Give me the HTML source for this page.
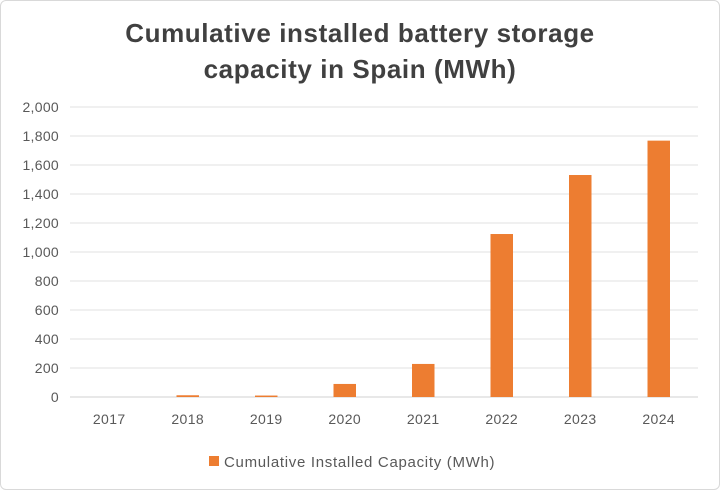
<!DOCTYPE html>
<html><head><meta charset="utf-8"><style>
html,body{margin:0;padding:0;background:#fff;}
#wrap{position:relative;width:718px;height:488px;border:1px solid #d9d9d9;border-radius:6px;overflow:hidden;font-family:"Liberation Sans",sans-serif;}
#title{position:absolute;left:0;top:14px;width:718px;text-align:center;font-weight:bold;font-size:26px;letter-spacing:0.6px;line-height:36px;color:#404040;}
svg{position:absolute;left:0;top:0;}
</style></head><body>
<div id="wrap">
<div id="title">Cumulative installed battery storage<br>capacity in Spain (MWh)</div>
<svg id="chart" width="718" height="488"></svg>
</div>
<script>
const categories = ["2017","2018","2019","2020","2021","2022","2023","2024"];
const values = [0, 12, 10, 90, 228, 1124, 1531, 1768];
const yTicks = [0,200,400,600,800,1000,1200,1400,1600,1800,2000];
const seriesName = "Cumulative Installed Capacity (MWh)";

const svg = document.getElementById('chart');
const NS = 'http://www.w3.org/2000/svg';
const left = 69, right = 697, y0 = 396, yTop = 106, yMax = 2000;
const band = (right-left)/categories.length;
const barW = 22.5;
function y(v){ return y0 - v/yMax*(y0-yTop); }
function xc(i){ return left + band*(i+0.5); }
function mk(tag, attrs){ const e=document.createElementNS(NS,tag); for(const k in attrs) e.setAttribute(k,attrs[k]); svg.appendChild(e); return e; }

yTicks.forEach(t=>{
  const g = mk('line',{x1:left,x2:right,y1:y(t),y2:y(t),stroke: t===0?'#d0d0d0':'#e0e0e0','stroke-width':1});
  
  
  const l = mk('text',{x:58,y:y(t)+5,'text-anchor':'end','font-size':14,'letter-spacing':0.3,fill:'#595959','font-family':'Liberation Sans, sans-serif'});
  l.textContent = t.toLocaleString('en-US');
  
  
});
categories.forEach((c,i)=>{
  const r = mk('rect',{x:xc(i)-barW/2,y:y(values[i]),width:barW,height:y0-y(values[i]),fill:'#ed7d31'});
  
  
  const l = mk('text',{x:xc(i),y:423,'text-anchor':'middle','font-size':14,'letter-spacing':0.4,fill:'#595959','font-family':'Liberation Sans, sans-serif'});
  l.textContent = c;
  
  
});
const lg = mk('rect',{x:208,y:455,width:10,height:10,fill:'#ed7d31'});


const lt = mk('text',{x:223,y:466,'font-size':15,'letter-spacing':0.7,fill:'#595959','font-family':'Liberation Sans, sans-serif'});
lt.textContent = seriesName;


</script>
</body></html>
